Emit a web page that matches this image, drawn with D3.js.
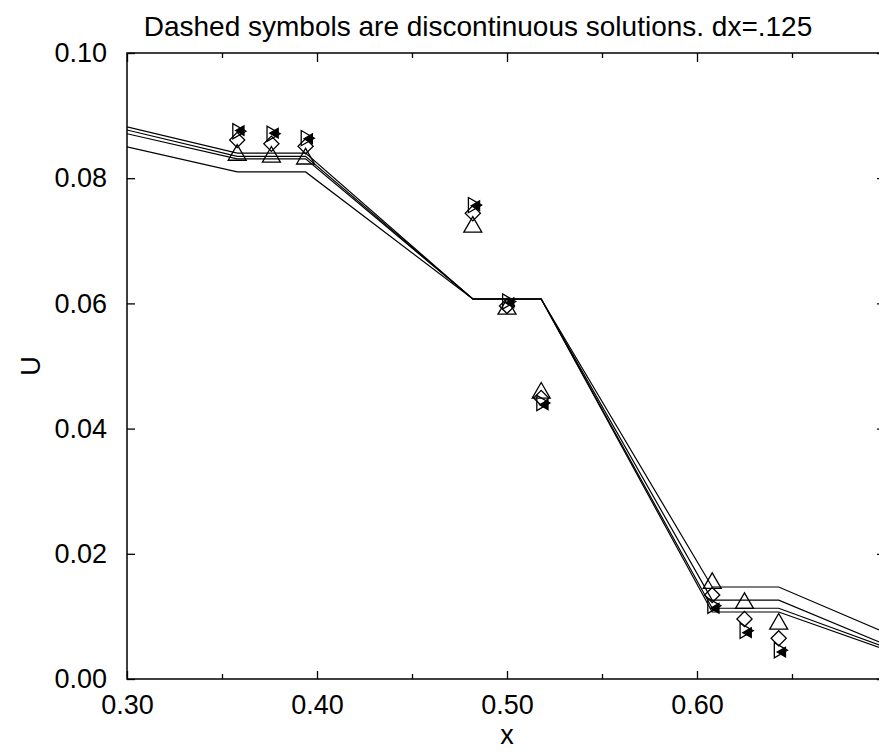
<!DOCTYPE html>
<html>
<head>
<meta charset="utf-8">
<script src="https://cdn.jsdelivr.net/npm/d3@7"></script>
<style>
  body { margin: 0; background: #fff; }
  text { font-family: "Liberation Sans", Arial, sans-serif; fill: #000; }
</style>
</head>
<body>
<svg id="chart" width="879" height="752"></svg>
<script>
// tick labels
const xTicks = [0.30, 0.40, 0.50, 0.60];
const xMinorTicks = [0.35, 0.45, 0.55, 0.65];
const yTicks = [0.00, 0.02, 0.04, 0.06, 0.08, 0.10];

// solution curves (piecewise linear)
const lineX = [0.30, 0.358, 0.394, 0.482, 0.518, 0.608, 0.643, 0.70];
const line1 = [0.0850, 0.0810, 0.0810, 0.0607, 0.0607, 0.0147, 0.0147, 0.0073];
const line2 = [0.0871, 0.0831, 0.0831, 0.0607, 0.0607, 0.0126, 0.0126, 0.0054];
const line3 = [0.0877, 0.0835, 0.0835, 0.0607, 0.0607, 0.0113, 0.0113, 0.0050];
const line4 = [0.0882, 0.0840, 0.0840, 0.0607, 0.0607, 0.0107, 0.0107, 0.0046];

// discontinuous solution symbols
const symX      = [0.358, 0.376, 0.394, 0.482, 0.500, 0.518, 0.608, 0.625, 0.643];
const triUp     = [0.0837, 0.0834, 0.0831, 0.0722, 0.0591, 0.0457, 0.0153, 0.0121, 0.0088];
const diamond   = [0.0861, 0.0855, 0.0851, 0.0744, 0.0596, 0.0449, 0.0134, 0.0096, 0.0065];
const triRight  = [0.0875, 0.0871, 0.0864, 0.0757, 0.0603, 0.0441, 0.0117, 0.0077, 0.0046];
const triLeft   = [0.0876, 0.0872, 0.0863, 0.0756, 0.0601, 0.0438, 0.0113, 0.0074, 0.0043];

(function() {
    const svg = d3.select("#chart");
    const left = 127, right = 887, top = 53, bottom = 679;

    const x = d3.scaleLinear().domain([0.30, 0.70]).range([left, right]);
    const y = d3.scaleLinear().domain([0.0, 0.10]).range([bottom, top]);

    svg.append("defs").append("clipPath").attr("id", "plotclip")
        .append("rect")
        .attr("x", left).attr("y", top)
        .attr("width", right - left).attr("height", bottom - top);

    // frame
    svg.append("rect")
        .attr("x", left).attr("y", top)
        .attr("width", right - left).attr("height", bottom - top)
        .attr("fill", "none")
        .attr("stroke", "black")
        .attr("stroke-width", 1.5);

    // axes, ticks pointing inwards
    const axisStyle = g => {
        g.select(".domain").remove();
        g.selectAll(".tick line").attr("stroke", "black").attr("stroke-width", 1.3);
        g.selectAll(".tick text")
            .style("font-size", "27px")
            .style("font-family", "'Liberation Sans', Arial, sans-serif");
    };

    svg.append("g")
        .attr("transform", `translate(0,${bottom})`)
        .call(d3.axisBottom(x).tickValues(xTicks).tickFormat(d3.format(".2f"))
            .tickSizeInner(-8).tickPadding(16))
        .call(axisStyle);

    svg.append("g")
        .attr("transform", `translate(0,${bottom})`)
        .call(d3.axisBottom(x).tickValues(xMinorTicks).tickFormat("").tickSizeInner(-5))
        .call(axisStyle);

    svg.append("g")
        .attr("transform", `translate(0,${top})`)
        .call(d3.axisTop(x).tickValues(xTicks).tickFormat("").tickSizeInner(-9))
        .call(axisStyle);

    svg.append("g")
        .attr("transform", `translate(0,${top})`)
        .call(d3.axisTop(x).tickValues(xMinorTicks).tickFormat("").tickSizeInner(-5))
        .call(axisStyle);

    svg.append("g")
        .attr("transform", `translate(${left},0)`)
        .call(d3.axisLeft(y).tickValues(yTicks).tickFormat(d3.format(".2f"))
            .tickSizeInner(-8).tickPadding(20))
        .call(axisStyle);

    svg.append("g")
        .attr("transform", `translate(${right},0)`)
        .call(d3.axisRight(y).tickValues(yTicks).tickFormat("").tickSizeInner(-10))
        .call(axisStyle);

    // curves
    const lineGen = d3.line()
        .x(d => x(d[0]))
        .y(d => y(d[1]));

    const curves = [line1, line2, line3, line4].map(vals => lineX.map((xv, i) => [xv, vals[i]]));

    svg.append("g")
        .attr("clip-path", "url(#plotclip)")
        .selectAll("path")
        .data(curves)
        .join("path")
        .attr("d", lineGen)
        .attr("fill", "none")
        .attr("stroke", "black")
        .attr("stroke-width", 1.2);

    // symbols; the filled one sits at the tip of the open right triangle
    const symbolGroups = [
        { vals: triUp,    type: d3.symbolTriangle, size: 140, rot: 0,   dx: 0, fill: "none" },
        { vals: diamond,  type: d3.symbolSquare,   size: 115, rot: 45,  dx: 0, fill: "none" },
        { vals: triRight, type: d3.symbolTriangle, size: 100, rot: 90,  dx: 0, fill: "none" },
        { vals: triLeft,  type: d3.symbolTriangle, size: 40,  rot: -90, dx: 4, fill: "black" }
    ];

    symbolGroups.forEach(s => {
        svg.append("g")
            .selectAll("path")
            .data(symX.map((xv, i) => [xv, s.vals[i]]))
            .join("path")
            .attr("d", d3.symbol().type(s.type).size(s.size))
            .attr("transform", d => `translate(${x(d[0]) + s.dx},${y(d[1])}) rotate(${s.rot})`)
            .attr("fill", s.fill)
            .attr("stroke", "black")
            .attr("stroke-width", 1.3);
    });

    // labels
    svg.append("text")
        .attr("x", 478).attr("y", 36)
        .attr("text-anchor", "middle")
        .style("font-size", "28px")
        .text("Dashed symbols are discontinuous solutions. dx=.125");

    svg.append("text")
        .attr("x", 507).attr("y", 744)
        .attr("text-anchor", "middle")
        .style("font-size", "27px")
        .text("x");

    svg.append("text")
        .attr("transform", `translate(40,${(top + bottom) / 2}) rotate(-90)`)
        .attr("text-anchor", "middle")
        .style("font-size", "27px")
        .text("U");
})();
</script>
</body>
</html>
